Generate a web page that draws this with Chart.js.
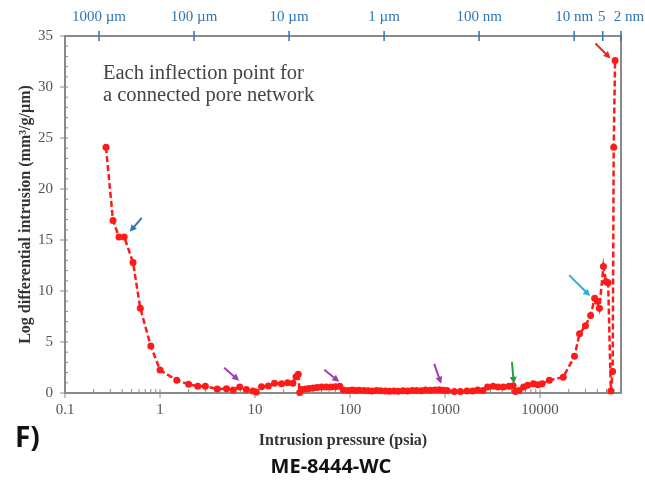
<!DOCTYPE html>
<html>
<head>
<meta charset="utf-8">
<script src="https://cdn.jsdelivr.net/npm/chart.js@4.4.1/dist/chart.umd.min.js"></script>
<style>
  body { margin: 0; background: #fff; }
  #wrap { position: relative; width: 645px; height: 481px; }
  #chart { position: absolute; left: 0; top: 0; }
  .note { position: absolute; left: 103px; top: 61px; font: 20.5px "Liberation Serif", serif; color: #444; line-height: 22px; }
  .panel { position: absolute; left: 15px; top: 417px; font: bold 28px "Open Sans", sans-serif; color: #111; }
  .name { position: absolute; left: 0; width: 662px; top: 452px; text-align: center; font: bold 20px "Open Sans", sans-serif; color: #111; }
</style>
</head>
<body>
<div id="wrap">
  <canvas id="chart" width="645" height="481"></canvas>
  <div class="note">Each inflection point for<br>a connected pore network</div>
  <div class="panel">F)</div>
  <div class="name">ME-8444-WC</div>
</div>
<script>
// data
const pressure = [0.27, 0.32, 0.37, 0.42, 0.52, 0.62, 0.80, 1.0, 1.5, 2.0, 2.5, 3.0, 4.0, 5.0, 5.9, 6.9, 8.1, 9.5, 10.3, 11.7, 13.8,
  16, 19, 22, 25, 27, 28.5, 29.5, 31, 34, 37, 41, 45, 50, 56, 63, 70, 78, 85, 95, 105, 115, 125, 140, 155, 170, 190, 210, 235,
  260, 290, 320, 360, 400, 450, 500, 560, 620, 700, 780, 870, 960, 1050, 1250, 1450, 1700, 1950, 2200, 2500, 2800, 3200, 3600,
  4100, 4700, 5200, 5500, 6000, 6700, 7400, 8500, 9500, 10500, 12500, 17500, 23000, 26000, 30000, 34000, 37500, 40000, 42000,
  46400, 49500, 52000, 55500, 58000, 59500, 61500];
const intrusion = [24.1, 16.9, 15.3, 15.3, 12.8, 8.3, 4.6, 2.25, 1.25, 0.85, 0.65, 0.65, 0.4, 0.42, 0.3, 0.6, 0.35, 0.2, 0.1, 0.62, 0.69,
  0.95, 0.9, 1.0, 0.95, 1.6, 1.85, 0.05, 0.35, 0.4, 0.45, 0.5, 0.55, 0.6, 0.6, 0.6, 0.62, 0.65, 0.3, 0.25, 0.3, 0.25, 0.28, 0.25, 0.22, 0.2, 0.25, 0.22, 0.2,
  0.18, 0.2, 0.18, 0.22, 0.2, 0.25, 0.25, 0.22, 0.3, 0.28, 0.3, 0.32, 0.28, 0.25, 0.15, 0.15, 0.2, 0.2, 0.3, 0.25, 0.6, 0.65, 0.6,
  0.6, 0.65, 0.7, 0.15, 0.25, 0.6, 0.75, 0.9, 0.8, 0.9, 1.25, 1.55, 3.6, 5.8, 6.6, 7.6, 9.3, 9.0, 8.3,
  12.4, 10.9, 10.8, 0.2, 2.1, 24.1, 32.6];

const xTicks = [0.1, 1, 10, 100, 1000, 10000];
const yTicks = [0, 5, 10, 15, 20, 25, 30, 35];
const poreLabels = ['1000 µm', '100 µm', '10 µm', '1 µm', '100 nm', '10 nm', '5', '2 nm'];
const poreSizes = [1000, 100, 10, 1, 0.1, 0.01, 0.005, 0.002]; // µm
const poreLabelShift = [0, 0, 0, 0, 0, 0, -1, 8]; // px, crowded labels at the right end
const WASHBURN = 228; // psia * µm
const X_MIN = 0.1, X_MAX = 71000;

// arrows: head position in data units, tail offset in px
const arrowX = [0.48, 6.8, 77, 910, 5300, 33600, 55000];
const arrowY = [15.8, 1.2, 1.1, 0.9, 0.9, 9.5, 32.8];
const arrowColors = ['#2e75b6', '#a23bb5', '#a23bb5', '#a23bb5', '#22a045', '#29aee8', '#e8262a'];
const arrowTail = [[12, -14], [-15, -13], [-15, -12], [-7, -20], [-2, -22], [-21, -21], [-15, -15]];

const porePressure = poreSizes.map(d => Math.min(WASHBURN / d, X_MAX));
const serif = 'Liberation Serif';
const AXIS = '#8a8a8a';
const BLUE = '#2e75b6';

const framePlugin = {
  id: 'frame',
  beforeDatasetsDraw(chart) {
    const { ctx, chartArea: a, scales } = chart;
    ctx.save();
    ctx.strokeStyle = AXIS;
    ctx.lineWidth = 2;
    ctx.strokeRect(a.left, a.top, a.right - a.left, a.bottom - a.top);
    ctx.lineWidth = 1;
    // bottom axis ticks
    for (let d = -1; d <= 4; d++) {
      for (let k = 1; k <= 9; k++) {
        const v = k * Math.pow(10, d);
        if (v < X_MIN || v > X_MAX) continue;
        const px = scales.x.getPixelForValue(v);
        ctx.beginPath();
        if (k === 1) { ctx.moveTo(px, a.bottom - 4); ctx.lineTo(px, a.bottom + 5); }
        else { ctx.moveTo(px, a.bottom - 4); ctx.lineTo(px, a.bottom); }
        ctx.stroke();
      }
    }
    // y axis ticks
    for (let v = 0; v <= 35; v++) {
      const py = scales.y.getPixelForValue(v);
      ctx.beginPath();
      if (v % 5 === 0) { ctx.moveTo(a.left - 5, py); ctx.lineTo(a.left + 3, py); }
      else { ctx.moveTo(a.left, py); ctx.lineTo(a.left + 3, py); }
      ctx.stroke();
    }
    // top axis ticks and labels (pore size)
    ctx.strokeStyle = BLUE;
    ctx.fillStyle = BLUE;
    ctx.lineWidth = 1.5;
    ctx.font = '15px "' + serif + '"';
    ctx.textAlign = 'center';
    ctx.textBaseline = 'middle';
    porePressure.forEach((p, i) => {
      const px = scales.x2.getPixelForValue(p);
      ctx.beginPath();
      ctx.moveTo(px, a.top - 5);
      ctx.lineTo(px, a.top + 5);
      ctx.stroke();
      ctx.fillText(poreLabels[i], px + poreLabelShift[i], 17);
    });
    ctx.restore();
  },
  afterDatasetsDraw(chart) {
    const { ctx, scales } = chart;
    ctx.save();
    arrowX.forEach((xv, i) => {
      const hx = scales.x.getPixelForValue(xv);
      const hy = scales.y.getPixelForValue(arrowY[i]);
      const tx = hx + arrowTail[i][0], ty = hy + arrowTail[i][1];
      const ang = Math.atan2(hy - ty, hx - tx);
      ctx.strokeStyle = arrowColors[i];
      ctx.fillStyle = arrowColors[i];
      ctx.lineWidth = 2;
      ctx.beginPath();
      ctx.moveTo(tx, ty);
      ctx.lineTo(hx - 4 * Math.cos(ang), hy - 4 * Math.sin(ang));
      ctx.stroke();
      ctx.beginPath();
      ctx.moveTo(hx, hy);
      ctx.lineTo(hx - 7 * Math.cos(ang) + 3.5 * Math.sin(ang), hy - 7 * Math.sin(ang) - 3.5 * Math.cos(ang));
      ctx.lineTo(hx - 7 * Math.cos(ang) - 3.5 * Math.sin(ang), hy - 7 * Math.sin(ang) + 3.5 * Math.cos(ang));
      ctx.closePath();
      ctx.fill();
    });
    ctx.restore();
  }
};

function noPad(s) {
  s.paddingLeft = 0; s.paddingRight = 0; s.paddingTop = 0; s.paddingBottom = 0;
}

new Chart(document.getElementById('chart'), {
  type: 'line',
  data: {
    datasets: [{
      data: pressure.map((p, i) => ({ x: p, y: intrusion[i] })),
      borderColor: '#ff1a1a',
      backgroundColor: '#ff1a1a',
      borderWidth: 2.5,
      borderDash: [6, 3],
      pointRadius: 3.5,
      pointBorderWidth: 0,
      pointBackgroundColor: '#ff1a1a',
      tension: 0,
      clip: false
    }]
  },
  options: {
    responsive: false,
    animation: false,
    layout: { padding: { left: 0, right: 24, top: 0, bottom: 0 } },
    plugins: { legend: { display: false }, tooltip: { enabled: false } },
    scales: {
      x: {
        type: 'logarithmic',
        position: 'bottom',
        min: X_MIN, max: X_MAX,
        afterBuildTicks: s => { s.ticks = xTicks.map(v => ({ value: v })); },
        afterFit: s => { s.height = 88; noPad(s); },
        grid: { display: false, drawTicks: false },
        border: { display: false },
        ticks: {
          autoSkip: false, maxRotation: 0, padding: 8,
          font: { family: serif, size: 15 }, color: '#555',
          callback: v => String(v)
        },
        title: {
          display: true, text: 'Intrusion pressure (psia)',
          font: { family: serif, size: 16, weight: 'bold' }, color: '#333',
          padding: { top: 4, bottom: 31 }
        }
      },
      x2: {
        type: 'logarithmic',
        position: 'top',
        min: X_MIN, max: X_MAX,
        afterBuildTicks: s => { s.ticks = porePressure.map(v => ({ value: v })); },
        afterFit: s => { s.height = 36; noPad(s); },
        grid: { display: false, drawTicks: false },
        border: { display: false },
        ticks: { display: false }
      },
      y: {
        type: 'linear',
        min: 0, max: 35,
        afterBuildTicks: s => { s.ticks = yTicks.map(v => ({ value: v })); },
        afterFit: s => { s.width = 65; noPad(s); },
        grid: { display: false, drawTicks: false },
        border: { display: false },
        ticks: { padding: 12, font: { family: serif, size: 15 }, color: '#555' },
        title: {
          display: true, text: 'Log differential intrusion (mm³/g/µm)',
          font: { family: serif, size: 16, weight: 'bold' }, color: '#333',
          padding: { top: 16 }
        }
      }
    }
  },
  plugins: [framePlugin]
});
</script>
</body>
</html>
